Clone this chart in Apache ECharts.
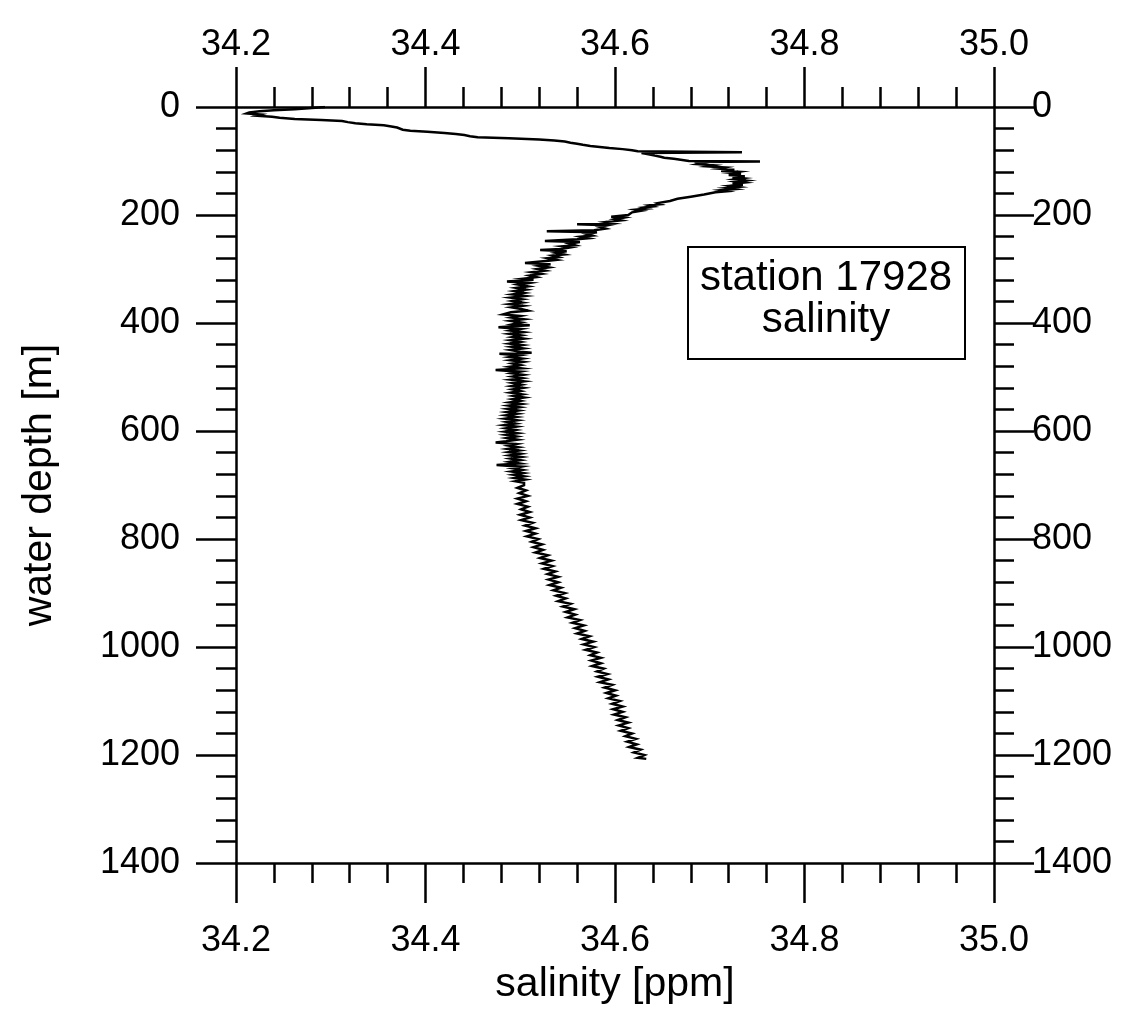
<!DOCTYPE html>
<html>
<head>
<meta charset="utf-8">
<script src="https://cdn.jsdelivr.net/npm/echarts@6/dist/echarts.min.js"></script>
<style>
html,body{margin:0;padding:0;background:#fff;}
#chart{width:1142px;height:1010px;}
</style>
</head>
<body>
<div id="chart"></div>
<script>
// Tick labels
var salinityTicks = ['34.2', '34.4', '34.6', '34.8', '35.0'];
var depthTicks = ['0', '200', '400', '600', '800', '1000', '1200', '1400'];
var stationLabel = ['station 17928', 'salinity'];

// [depth m, salinity ppm]
var surfaceLayer = [
  [0,34.294],[2,34.280],[4,34.262],[6,34.240],[8,34.225],[10,34.214],[12,34.211],[14,34.226],
  [16,34.222],[18,34.238],[20,34.246],[22,34.262],[24,34.290],[26,34.312],[28,34.318],[30,34.326],
  [32,34.338],[34,34.356],[36,34.364],[38,34.370],[40,34.372],[42,34.376],[44,34.384],[46,34.402],
  [48,34.420],[50,34.432],[52,34.441],[54,34.447],[56,34.455],[58,34.488],[60,34.520],[62,34.536],
  [64,34.547],[66,34.553],[68,34.560],[70,34.566],[72,34.574],[74,34.584],[76,34.594],[78,34.608],
  [80,34.618]
];
var haloclineLayer = [
  [82,34.624],[84,34.734],[85,34.628],[87,34.634],[90,34.642],[92,34.648],[94,34.652],[96,34.662],
  [98,34.671],[100,34.678],[101,34.753],[102,34.684],[104,34.694],[106,34.688],[108,34.704],[110,34.698],
  [112,34.716],[114,34.710],[116,34.726],[118,34.712],[120,34.730],[122,34.722],[124,34.733],[126,34.720],
  [128,34.737],[130,34.724],[132,34.735],[134,34.727],[136,34.738],[138,34.728],[140,34.736],[142,34.724],
  [144,34.735],[146,34.722],[148,34.730],[150,34.718],[152,34.726],[154,34.712],[156,34.718],[158,34.706],
  [160,34.708],[162,34.694],[164,34.692],[166,34.680],[168,34.680],[170,34.666],[172,34.668],[174,34.658],
  [176,34.656],[178,34.645],[180,34.648],[182,34.636],[184,34.640],[186,34.630],[188,34.634],[190,34.622],
  [192,34.628]
];
var intermediateLayer = [
  [195,34.618],[200,34.614],[203,34.596],[205,34.609],[208,34.600],[210,34.606],[213,34.590],[215,34.596],
  [217,34.560],[219,34.592],[222,34.584],[225,34.590],[228,34.578],[230,34.528],[232,34.581],[235,34.570],
  [238,34.576],[240,34.564],[243,34.572],[245,34.560],[248,34.526],[250,34.563],[253,34.552],[256,34.558],
  [258,34.545],[260,34.553],[263,34.543],[265,34.521],[267,34.549],[270,34.538],[273,34.546],[275,34.534],
  [278,34.540],[280,34.529],[283,34.538],[285,34.527],[289,34.505],[291,34.532],[294,34.520],[297,34.530],
  [300,34.518],[303,34.526],[306,34.512],[309,34.522],[312,34.510],[315,34.517],[318,34.503],[320,34.514],
  [323,34.486],[326,34.509],[329,34.498],[332,34.508],[335,34.496],[338,34.506],[341,34.494],[344,34.504],
  [347,34.492],[350,34.505],[353,34.490],[356,34.502],[359,34.492],[362,34.502],[365,34.489],[368,34.503],
  [371,34.491],[374,34.501],[377,34.508],[380,34.490],[384,34.482],[387,34.500],[390,34.491],[393,34.504],
  [396,34.490],[399,34.501],[402,34.493],[404,34.510],[406,34.492],[408,34.477],[411,34.500],[414,34.490],
  [417,34.503],[420,34.489],[423,34.501],[426,34.492],[429,34.504],[432,34.490],[435,34.500],[438,34.489],
  [441,34.502],[444,34.491],[447,34.503],[450,34.490],[453,34.500],[455,34.512],[457,34.478],[460,34.499],
  [463,34.489],[466,34.502],[469,34.490],[472,34.503],[475,34.492],[478,34.500],[481,34.489],[484,34.501],
  [487,34.474],[490,34.500],[493,34.491],[496,34.503],[499,34.492],[502,34.502],[505,34.490],[508,34.504],
  [511,34.492],[514,34.501],[517,34.491],[520,34.503],[523,34.492],[526,34.500],[529,34.490],[532,34.502],
  [535,34.493],[538,34.504],[541,34.492],[544,34.500],[547,34.489],[550,34.501],[553,34.488],[556,34.499],
  [559,34.487],[562,34.498],[565,34.486],[568,34.497],[571,34.485],[574,34.496],[577,34.484],[580,34.497],
  [583,34.486],[586,34.495],[589,34.483],[592,34.496],[595,34.485],[598,34.495],[601,34.484],[604,34.497],
  [607,34.485],[610,34.496],[613,34.486],[616,34.497],[619,34.485],[621,34.474],[624,34.496],[627,34.488],
  [630,34.498],[633,34.487],[636,34.499],[639,34.488],[642,34.500],[645,34.489],[648,34.501],[651,34.490],
  [654,34.500],[657,34.489],[660,34.499],[663,34.475],[666,34.501],[669,34.492],[672,34.502],[675,34.491],
  [678,34.503],[681,34.493],[684,34.504],[687,34.494],[690,34.505],[693,34.495],[696,34.504]
];
var deepLayer = [
  [700,34.504],[705,34.497],[710,34.506],[715,34.499],[720,34.508],[725,34.497],[730,34.506],[735,34.497],
  [740,34.508],[745,34.501],[750,34.510],[755,34.500],[760,34.510],[765,34.501],[770,34.513],[775,34.505],
  [780,34.516],[785,34.506],[790,34.516],[795,34.507],[800,34.519],[805,34.512],[810,34.523],[815,34.514],
  [820,34.524],[825,34.516],[830,34.529],[835,34.521],[840,34.533],[845,34.523],[850,34.534],[855,34.525],
  [860,34.537],[865,34.529],[870,34.540],[875,34.530],[880,34.540],[885,34.531],[890,34.543],[895,34.535],
  [900,34.547],[905,34.538],[910,34.548],[915,34.540],[920,34.553],[925,34.545],[930,34.557],[935,34.548],
  [940,34.558],[945,34.550],[950,34.563],[955,34.555],[960,34.567],[965,34.558],[970,34.568],[975,34.560],
  [980,34.573],[985,34.565],[990,34.577],[995,34.567],[1000,34.578],[1005,34.569],[1010,34.581],[1015,34.574],
  [1020,34.585],[1025,34.575],[1030,34.585],[1035,34.576],[1040,34.588],[1045,34.581],[1050,34.592],[1055,34.582],
  [1060,34.593],[1065,34.584],[1070,34.597],[1075,34.589],[1080,34.600],[1085,34.591],[1090,34.601],[1095,34.593],
  [1100,34.605],[1105,34.597],[1110,34.608],[1115,34.598],[1120,34.608],[1125,34.599],[1130,34.611],[1135,34.603],
  [1140,34.614],[1145,34.604],[1150,34.614],[1155,34.606],[1160,34.618],[1165,34.611],[1170,34.622],[1175,34.613],
  [1180,34.623],[1185,34.615],[1190,34.627],[1195,34.620],[1200,34.631],[1205,34.624],[1207,34.633]
];

var profile = surfaceLayer.concat(haloclineLayer, intermediateLayer, deepLayer)
  .map(function (p) { return [p[1], p[0]]; });

var FONT = 'Liberation Sans, Arial, Helvetica, sans-serif';
var lineW = 2.5;

function xAxisCfg(pos, margin, name) {
  return {
    type: 'value', position: pos, min: 34.2, max: 35.0, interval: 0.2,
    name: name || '', nameLocation: 'middle', nameGap: 80,
    nameTextStyle: { fontFamily: FONT, fontSize: 41, color: '#000' },
    axisLine: { show: true, onZero: false, lineStyle: { color: '#000', width: lineW } },
    axisTick: { show: true, inside: false, length: 40, lineStyle: { color: '#000', width: lineW } },
    minorTick: { show: true, splitNumber: 5, length: 20, lineStyle: { color: '#000', width: lineW } },
    splitLine: { show: false },
    axisLabel: {
      margin: margin, fontFamily: FONT, fontSize: 36, color: '#000',
      formatter: function (v) {
        var s = (Math.round(v * 10) / 10).toFixed(1);
        return salinityTicks.indexOf(s) >= 0 ? s : '';
      }
    }
  };
}
function yAxisCfg(pos, margin, name) {
  return {
    type: 'value', position: pos, min: 0, max: 1400, interval: 200, inverse: true,
    name: name || '', nameLocation: 'middle', nameGap: 176,
    nameTextStyle: { fontFamily: FONT, fontSize: 41, color: '#000' },
    axisLine: { show: true, onZero: false, lineStyle: { color: '#000', width: lineW } },
    axisTick: { show: true, inside: false, length: 40, lineStyle: { color: '#000', width: lineW } },
    minorTick: { show: true, splitNumber: 5, length: 20, lineStyle: { color: '#000', width: lineW } },
    splitLine: { show: false },
    axisLabel: {
      margin: margin, fontFamily: FONT, fontSize: 36, color: '#000',
      formatter: function (v) {
        var s = String(Math.round(v));
        return depthTicks.indexOf(s) >= 0 ? s : '';
      }
    }
  };
}

var chart = echarts.init(document.getElementById('chart'), null, { renderer: 'canvas' });
chart.setOption({
  backgroundColor: '#fff',
  animation: false,
  grid: { left: 236, top: 107, width: 758, height: 757, containLabel: false },
  xAxis: [xAxisCfg('bottom', 60, 'salinity [ppm]'), xAxisCfg('top', 44)],
  yAxis: [yAxisCfg('left', 56, 'water depth [m]'), yAxisCfg('right', 38)],
  series: [{
    type: 'line', xAxisIndex: 0, yAxisIndex: 0, data: profile,
    showSymbol: false, symbol: 'none',
    lineStyle: { color: '#000', width: 2.5, join: 'miter' }
  }],
  graphic: [
    { type: 'rect', shape: { x: 688, y: 247, width: 277, height: 112 },
      style: { fill: '#fff', stroke: '#000', lineWidth: 2 }, z: 10 },
    { type: 'text', x: 826, y: 299, z: 11,
      style: { text: stationLabel.join('\n'), fontFamily: FONT, fontSize: 42, lineHeight: 42,
               fill: '#000', align: 'center', verticalAlign: 'middle' } }
  ]
});
</script>
</body>
</html>
